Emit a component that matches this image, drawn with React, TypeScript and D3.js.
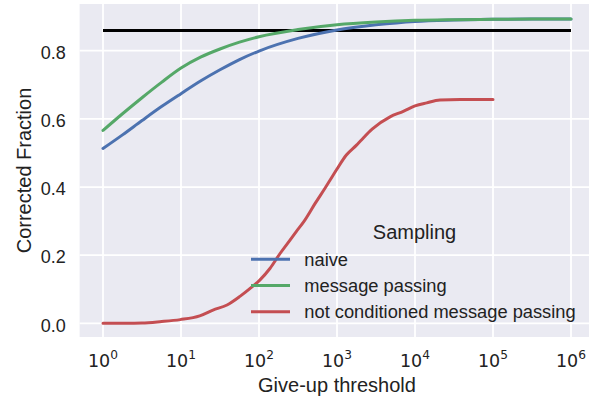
import React from "react";
import * as d3 from "d3";

// ---- data (x as log10 of give-up threshold) ----
const naiveExp = [0, 0.25, 0.5, 0.75, 1, 1.25, 1.5, 1.75, 2, 2.5, 3, 3.5, 4, 4.5, 5, 5.5, 6];
const naiveVal = [0.513, 0.553, 0.595, 0.636, 0.674, 0.711, 0.744, 0.774, 0.799, 0.836, 0.861, 0.876, 0.886, 0.89, 0.892, 0.893, 0.893];

const mpExp = [0, 0.25, 0.5, 0.75, 1, 1.25, 1.5, 1.75, 2, 2.5, 3, 3.5, 4, 4.5, 5, 5.5, 6];
const mpVal = [0.566, 0.615, 0.662, 0.707, 0.749, 0.781, 0.805, 0.825, 0.841, 0.862, 0.876, 0.884, 0.889, 0.891, 0.892, 0.893, 0.893];

const ncExp = [0, 0.3, 0.5, 0.73, 0.99, 1.24, 1.41, 1.59, 1.76, 1.91, 2.01, 2.14, 2.27, 2.4, 2.48, 2.57, 2.72, 2.85, 2.91, 3.0, 3.12, 3.25, 3.3, 3.45, 3.68, 3.85, 4.0, 4.15, 4.32, 4.58, 5.0];
const ncVal = [0, 0, 0.001, 0.005, 0.011, 0.022, 0.039, 0.054, 0.08, 0.107, 0.127, 0.161, 0.205, 0.245, 0.27, 0.297, 0.352, 0.398, 0.42, 0.453, 0.494, 0.523, 0.535, 0.57, 0.606, 0.622, 0.638, 0.647, 0.655, 0.657, 0.657];

const referenceLevel = 0.859;
const referenceExtent = [1, 1e6];

const seriesNames = ["naive", "message passing", "not conditioned message passing"];
const seriesColors = ["#4C72B0", "#55A868", "#C44E52"];

const yTicks = [0.0, 0.2, 0.4, 0.6, 0.8];
const xTickExps = [0, 1, 2, 3, 4, 5, 6];

const W = 589;
const H = 401;

export default function App() {
  const x = d3.scaleLog().domain([Math.pow(10, -0.3), Math.pow(10, 6.3)]).range([79.6, 594.4]);
  const y = d3.scaleLinear().domain([-0.04, 0.937]).range([337, 4]);

  const mk = (ex: number[], vals: number[]) =>
    ex.map((e, i) => [Math.pow(10, e), vals[i]] as [number, number]);

  const smooth = d3
    .line<[number, number]>()
    .x((d) => x(d[0]))
    .y((d) => y(d[1]))
    .curve(d3.curveMonotoneX);

  const series = [
    { d: smooth(mk(naiveExp, naiveVal)), c: seriesColors[0] },
    { d: smooth(mk(mpExp, mpVal)), c: seriesColors[1] },
    { d: smooth(mk(ncExp, ncVal)), c: seriesColors[2] },
  ];

  const sans = "'Liberation Sans', Arial, sans-serif";
  const dv = "'DejaVu Sans', sans-serif";
  const ink = "#222";
  const [px0, px1] = x.range();
  const [py0, py1] = y.range();

  return (
    <div style={{ position: "absolute", left: 0, top: 0 }}>
      <svg width={W} height={H} style={{ display: "block" }}>
        <rect x={0} y={0} width={W} height={H} fill="#ffffff" />
        <rect x={px0} y={py1} width={px1 - px0} height={py0 - py1} fill="#EAEAF2" />
        {xTickExps.map((e) => (
          <line key={"gx" + e} x1={x(Math.pow(10, e))} x2={x(Math.pow(10, e))} y1={py1} y2={py0} stroke="#fff" strokeWidth={1.8} />
        ))}
        {yTicks.map((t) => (
          <line key={"gy" + t} x1={px0} x2={px1} y1={y(t)} y2={y(t)} stroke="#fff" strokeWidth={1.8} />
        ))}
        <line
          x1={x(referenceExtent[0])}
          x2={x(referenceExtent[1])}
          y1={y(referenceLevel)}
          y2={y(referenceLevel)}
          stroke="#000"
          strokeWidth={3}
        />
        {series.map((s, i) => (
          <path key={i} d={s.d || ""} fill="none" stroke={s.c} strokeWidth={3} strokeLinejoin="round" strokeLinecap="round" />
        ))}
        {yTicks.map((t) => (
          <text key={"ty" + t} x={65.7} y={y(t) + 8.3} textAnchor="end" fontFamily={sans} fontSize={18} fill={ink}>
            {t.toFixed(1)}
          </text>
        ))}
        {xTickExps.map((e) => (
          <text key={"tx" + e} x={x(Math.pow(10, e))} y={366.7} textAnchor="middle" fontFamily={dv} fontSize={17.5} fill={ink}>
            <tspan>10</tspan>
            <tspan dy={-7.5} fontSize={12.2}>{String(e)}</tspan>
          </text>
        ))}
        <text x={337} y={391.5} textAnchor="middle" fontFamily={sans} fontSize={20} fill={ink}>
          Give-up threshold
        </text>
        <text transform={`translate(30.7,170.5) rotate(-90)`} textAnchor="middle" fontFamily={sans} fontSize={20} fill={ink}>
          Corrected Fraction
        </text>
        <text x={414.5} y={239.3} textAnchor="middle" fontFamily={sans} fontSize={20} fill={ink}>
          Sampling
        </text>
        {seriesNames.map((n, i) => {
          const ly = 259.3 + i * 26.2;
          return (
            <g key={n}>
              <line x1={251} x2={290} y1={ly} y2={ly} stroke={seriesColors[i]} strokeWidth={3} />
              <text x={304.3} y={ly + 6.3} fontFamily={sans} fontSize={18.3} fill={ink}>
                {n}
              </text>
            </g>
          );
        })}
      </svg>
    </div>
  );
}
